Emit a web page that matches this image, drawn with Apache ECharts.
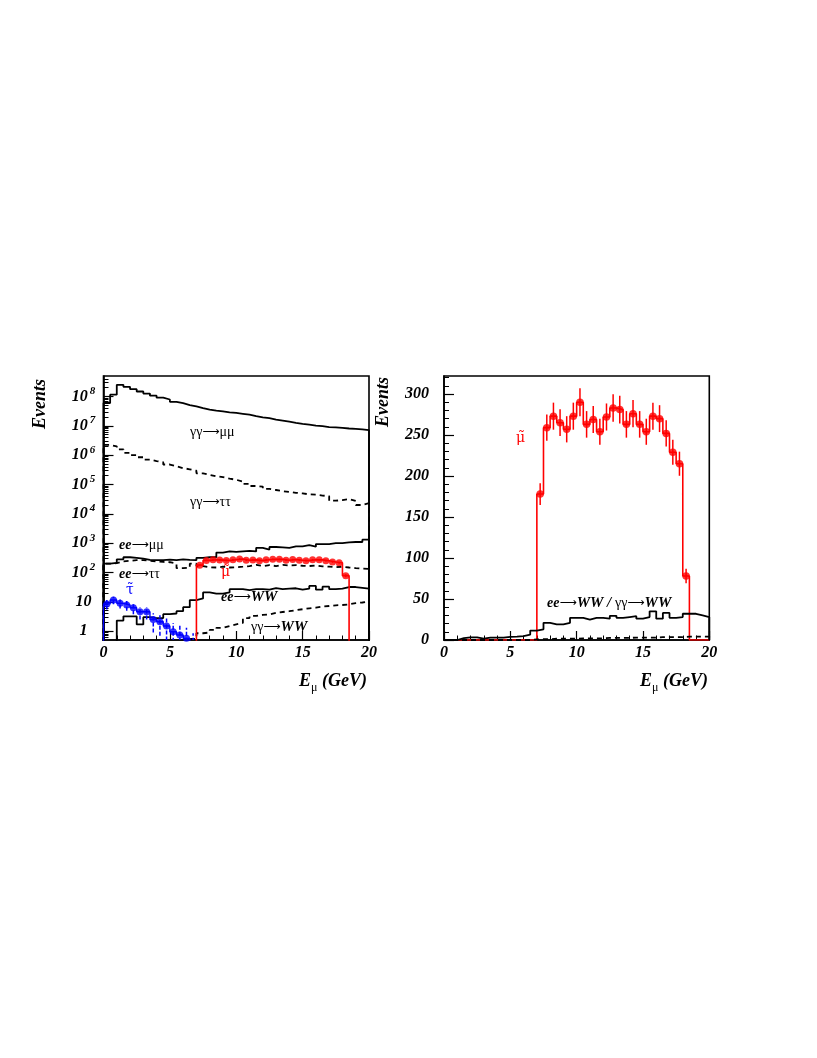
<!DOCTYPE html>
<html><head><meta charset="utf-8">
<script src="https://cdn.jsdelivr.net/npm/echarts@6/dist/echarts.min.js"></script>
<style>html,body{margin:0;padding:0;background:#fff}#c{width:817px;height:1058px}</style>
</head><body><div id="c"></div>
<script>
// ---------------- data (0.5 GeV bins, E from 0 to 20 GeV) ----------------
const binLow = [0,0.5,1,1.5,2,2.5,3,3.5,4,4.5,5,5.5,6,6.5,7,7.5,8,8.5,9,9.5,
                10,10.5,11,11.5,12,12.5,13,13.5,14,14.5,15,15.5,16,16.5,17,17.5,18,18.5,19,19.5];
const binWidth = 0.5;

// gamma gamma -> mu mu (solid, left)
const ggMuMu = [6.0e7,1.15e8,2.51e8,2.14e8,1.78e8,1.48e8,1.26e8,1.07e8,9.1e7,7.9e7,
                6.6e7,5.9e7,5.1e7,4.6e7,4.0e7,3.55e7,3.3e7,3.1e7,2.9e7,2.75e7,
                2.57e7,2.4e7,2.14e7,1.95e7,1.82e7,1.62e7,1.51e7,1.38e7,1.26e7,1.17e7,
                1.1e7,1.02e7,9.8e6,9.1e6,8.9e6,8.5e6,8.1e6,7.9e6,7.6e6,7.1e6];
// gamma gamma -> tau tau (dashed, left)
const ggTauTau = [2.24e6,2.0e6,1.58e6,1.2e6,1.0e6,8.5e5,7.1e5,6.3e5,5.75e5,4.8e5,
                  4.2e5,3.6e5,3.3e5,2.95e5,2.4e5,2.14e5,1.9e5,1.78e5,1.58e5,1.45e5,
                  1.26e5,1.05e5,8.9e4,8.5e4,7.1e4,6.5e4,5.9e4,5.6e4,5.2e4,5.0e4,
                  4.6e4,4.5e4,4.2e4,4.0e4,2.8e4,2.95e4,3.2e4,2.75e4,2.0e4,2.3e4];
// ee -> mu mu (solid, left)
const eeMuMu = [200,214,282,331,316,295,269,263,263,275,
                263,282,269,263,316,331,331,479,525,501,
                525,550,525,692,603,741,724,692,776,776,
                851,759,933,933,1000,1000,1072,1096,1096,1318];
// ee -> tau tau (dashed, left)
const eeTauTau = [200,209,240,251,263,263,251,240,229,224,
                  200,141,145,200,166,151,148,158,148,151,
                  158,166,182,166,178,166,182,174,178,170,
                  166,174,162,158,151,158,148,141,135,132];
// ee -> WW (solid, both panels)
const eeWW = [0,0,2.3,3.2,3.2,1.7,3.0,2.8,2.8,3.8,
              4.0,4.8,6.6,11.5,13,21,19,19,21,27,
              27,25,27,27,26,29.5,27,28,29,26,
              28,35,26,33,27,28,32,32,30,28];
// gamma gamma -> WW (dashed, left)
const ggWW = [0,0,0,0,0,0,0,0,0,0,
              0,0,0,0.55,0.85,0.9,1.1,1.3,1.5,1.7,
              1.9,2.8,3.3,3.6,3.7,4.2,4.5,4.8,5.2,5.6,
              6.0,6.3,6.9,7.2,7.6,7.8,8.2,9.0,9.5,10.2];
// gamma gamma -> WW (dashed, right panel)
const ggWWRight = [0,0,0,0,0,0,0,0,0,0,
                   0,0,0,0.8,1.0,1.0,1.5,1.5,1.5,1.5,
                   2,2,2,2,2.5,2.5,2.5,2.5,3,3,
                   3,3,3.5,3.5,3.5,3.5,4,4,4,4];
// smuon signal (red points)
const smuon = [0,0,0,0,0,0,0,0,0,0,
               0,0,0,0,178,259,273,265,257,273,
               290,263,269,254,272,283,281,263,276,263,
               254,273,270,252,229,215,78,0,0,0];
const smuonErr = [0,0,0,0,0,0,0,0,0,0,
                  0,0,0,0,13.3,16.1,16.5,16.3,16.0,16.5,
                  17.0,16.2,16.4,15.9,16.5,16.8,16.8,16.2,16.6,16.2,
                  15.9,16.5,16.4,15.9,15.1,14.7,8.8,0,0,0];
// stau signal (blue points)
const stau = [8.5,11.6,8.9,7.8,6.3,4.6,4.6,2.5,2.1,1.5,
              0.96,0.74,0.57,0.3,0,0,0,0,0,0,
              0,0,0,0,0,0,0,0,0,0,
              0,0,0,0,0,0,0,0,0,0];
const stauErr = [3.0,3.4,3.0,2.8,2.5,2.1,2.1,1.6,1.4,1.2,
                 0.95,0.85,0.75,0.55,0,0,0,0,0,0,
                 0,0,0,0,0,0,0,0,0,0,
                 0,0,0,0,0,0,0,0,0,0];

// axis ticks / labels
const xMajor = [0,5,10,15,20];
const logMajor = [1,10,100,1000,1e4,1e5,1e6,1e7,1e8];
const logMinor = [0.6,0.7,0.8,0.9,2,3,4,5,6,7,8,9,20,30,40,50,60,70,80,90,
                  200,300,400,500,600,700,800,900,2e3,3e3,4e3,5e3,6e3,7e3,8e3,9e3,
                  2e4,3e4,4e4,5e4,6e4,7e4,8e4,9e4,2e5,3e5,4e5,5e5,6e5,7e5,8e5,9e5,
                  2e6,3e6,4e6,5e6,6e6,7e6,8e6,9e6,2e7,3e7,4e7,5e7,6e7,7e7,8e7,9e7,2e8,3e8,4e8];
const linMajor = [0,50,100,150,200,250,300];
const linMinor = [10,20,30,40,60,70,80,90,110,120,130,140,160,170,180,190,
                  210,220,230,240,260,270,280,290,310,320];

// ---------------- chart ----------------
const SERIF = '"Liberation Serif", "DejaVu Serif", serif';
const DJ = '"DejaVu Serif", serif';
const LOG_FLOOR = 0.05;
const chart = echarts.init(document.getElementById('c'), null, {renderer: 'canvas', width: 817, height: 1058});

function stepData(vals, floor) {
  const pts = [[binLow[0], floor]];
  for (let i = 0; i < binLow.length; i++) pts.push([binLow[i], vals[i] > 0 ? vals[i] : floor]);
  const last = binLow.length - 1;
  const end = binLow[last] + binWidth;
  pts.push([end, vals[last] > 0 ? vals[last] : floor], [end, floor]);
  return pts;
}
function stepSeries(vals, g, floor, color, width, dashed, z) {
  return {type: 'line', step: 'end', xAxisIndex: g, yAxisIndex: g === 0 ? 0 : 2,
    data: stepData(vals, floor), symbol: 'none', showSymbol: false, clip: true, silent: true,
    lineStyle: {color: color, width: width, type: dashed ? [5, 4] : 'solid'}, z: z || 2};
}
function pointSeries(vals, g, color, size) {
  const d = [];
  for (let i = 0; i < binLow.length; i++) if (vals[i] > 0) d.push([binLow[i] + binWidth / 2, vals[i]]);
  return {type: 'scatter', xAxisIndex: g, yAxisIndex: g === 0 ? 0 : 2, data: d, symbol: 'circle',
    symbolSize: size, itemStyle: {color: color}, clip: true, silent: true, z: 5};
}
function errSeries(vals, errs, g, color, width, dash) {
  const d = [];
  for (let i = 0; i < binLow.length; i++) if (vals[i] > 0) d.push([binLow[i] + binWidth / 2, vals[i] - errs[i], vals[i] + errs[i]]);
  return {type: 'custom', xAxisIndex: g, yAxisIndex: g === 0 ? 0 : 2, data: d, clip: true, silent: true, z: 4,
    renderItem: function (params, api) {
      const x = api.value(0);
      let lo = api.value(1); const hi = api.value(2);
      if (g === 0 && lo < 0.01) lo = 0.01;
      const p1 = api.coord([x, lo]), p2 = api.coord([x, hi]);
      return {type: 'line', shape: {x1: p1[0], y1: p1[1], x2: p2[0], y2: p2[1]},
        style: {stroke: color, lineWidth: width, lineDash: dash || null}};
    }};
}

const labelFont = {fontFamily: SERIF, fontWeight: 'bold', fontStyle: 'italic', fontSize: 16, color: '#000'};
const frameColor = '#000';

function xAxisCfg(g) {
  return {gridIndex: g, type: 'value', min: 0, max: 20, interval: 5,
    axisLine: {show: true, onZero: false, lineStyle: {color: frameColor, width: 1.6}},
    axisTick: {show: true, inside: true, length: 9, lineStyle: {color: frameColor, width: 1.2}},
    minorTick: {show: true, splitNumber: 5, length: 4.5, lineStyle: {color: frameColor, width: 1}},
    axisLabel: Object.assign({margin: 5, customValues: xMajor}, labelFont),
    splitLine: {show: false}};
}

const option = {
  animation: false,
  backgroundColor: '#fff',
  grid: [
    {left: 103.5, top: 376, width: 265.5, height: 264, show: true, borderColor: frameColor, borderWidth: 1.6, backgroundColor: 'transparent'},
    {left: 444, top: 376, width: 265.3, height: 264, show: true, borderColor: frameColor, borderWidth: 1.6, backgroundColor: 'transparent'}
  ],
  xAxis: [xAxisCfg(0), xAxisCfg(1)],
  yAxis: [
    {gridIndex: 0, type: 'log', logBase: 10, min: 0.5, max: 5e8, position: 'left',
      axisLine: {show: true, onZero: false, lineStyle: {color: frameColor, width: 1.6}},
      axisTick: {show: true, inside: true, length: 10, customValues: logMajor, lineStyle: {color: frameColor, width: 1.2}},
      minorTick: {show: false},
      axisLabel: Object.assign({}, labelFont, {margin: 20, align: 'center', lineHeight: 22, customValues: logMajor,
        formatter: function (v) {
          const n = Math.round(Math.log10(v));
          if (n === 0) return '{b|1}';
          if (n === 1) return '{b|10}';
          return '{b|10}{s|' + n + '}';
        },
        rich: {
          b: {fontFamily: SERIF, fontWeight: 'bold', fontStyle: 'italic', fontSize: 16, lineHeight: 22, color: '#000'},
          s: {fontFamily: SERIF, fontWeight: 'bold', fontStyle: 'italic', fontSize: 11, lineHeight: 11, verticalAlign: 'top', color: '#000', padding: [0, 0, 0, 2]}
        }}),
      splitLine: {show: false}},
    {gridIndex: 0, type: 'log', logBase: 10, min: 0.5, max: 5e8, position: 'left',
      axisLine: {show: false},
      axisTick: {show: true, inside: true, length: 5, customValues: logMinor, lineStyle: {color: frameColor, width: 1}},
      axisLabel: {show: false}, minorTick: {show: false}, splitLine: {show: false}},
    {gridIndex: 1, type: 'value', min: 0, max: 322, position: 'left',
      axisLine: {show: true, onZero: false, lineStyle: {color: frameColor, width: 1.6}},
      axisTick: {show: true, inside: true, length: 10, customValues: linMajor, lineStyle: {color: frameColor, width: 1.2}},
      minorTick: {show: false},
      axisLabel: Object.assign({margin: 15, customValues: linMajor}, labelFont),
      splitLine: {show: false}},
    {gridIndex: 1, type: 'value', min: 0, max: 322, position: 'left',
      axisLine: {show: false},
      axisTick: {show: true, inside: true, length: 5, customValues: linMinor, lineStyle: {color: frameColor, width: 1}},
      axisLabel: {show: false}, minorTick: {show: false}, splitLine: {show: false}}
  ],
  series: [
    // left panel (log)
    stepSeries(ggMuMu, 0, LOG_FLOOR, '#000', 1.8, false),
    stepSeries(ggTauTau, 0, LOG_FLOOR, '#000', 1.8, true),
    stepSeries(eeMuMu, 0, LOG_FLOOR, '#000', 1.8, false),
    stepSeries(eeTauTau, 0, LOG_FLOOR, '#000', 1.8, true),
    stepSeries(eeWW, 0, LOG_FLOOR, '#000', 1.8, false),
    stepSeries(ggWW, 0, LOG_FLOOR, '#000', 1.8, true),
    stepSeries(smuon, 0, LOG_FLOOR, '#ff0000', 1.6, false, 3),
    stepSeries(stau, 0, LOG_FLOOR, '#0000ff', 1.4, false, 3),
    errSeries(smuon, smuonErr, 0, '#ff0000', 1.5),
    errSeries(stau, stauErr, 0, '#0000ff', 1.5, [4, 2]),
    pointSeries(smuon, 0, '#ff0000', 7),
    pointSeries(stau, 0, '#0000ff', 7),
    // right panel (linear)
    stepSeries(smuon, 1, 0, '#ff0000', 1.6, false, 2),
    stepSeries(ggWWRight, 1, 0, '#000', 1.8, true, 3),
    stepSeries(eeWW, 1, 0, '#000', 1.8, false, 3),
    errSeries(smuon, smuonErr, 1, '#ff0000', 1.5),
    pointSeries(smuon, 1, '#ff0000', 7.5)
  ],
  graphic: (function () {
    const n = {fontFamily: SERIF, fontSize: 14, fill: '#000'};
    const a = {fontFamily: '"DejaVu Sans", sans-serif', fontSize: 12, fill: '#000'};
    const bi = {fontFamily: SERIF, fontSize: 14, fontWeight: 'bold', fontStyle: 'italic', fill: '#000'};
    const big = {fontFamily: SERIF, fontSize: 15, fontWeight: 'bold', fontStyle: 'italic', fill: '#000'};
    function t(x, y, text, rich, extra) {
      return Object.assign({type: 'text', x: x, y: y, silent: true, z: 100,
        style: {text: text, rich: rich, verticalAlign: 'middle', align: 'left'}}, extra || {});
    }
    const titleRich = {
      b: {fontFamily: SERIF, fontSize: 18, fontWeight: 'bold', fontStyle: 'italic', fill: '#000', lineHeight: 26},
      s: {fontFamily: SERIF, fontSize: 12, fill: '#000', lineHeight: 12, verticalAlign: 'bottom'}
    };
    const evRich = {b: {fontFamily: SERIF, fontSize: 18, fontWeight: 'bold', fontStyle: 'italic', fill: '#000'}};
    const red = {r: {fontFamily: DJ, fontSize: 14, fill: '#ff0000'}};
    const blue = {u: {fontFamily: DJ, fontSize: 14, fill: '#0000ff'}};
    return [
      t(190, 432, '{n|γγ}{a|⟶}{n|μμ}', {n: n, a: a}),
      t(190, 502, '{n|γγ}{a|⟶}{n|ττ}', {n: n, a: a}),
      t(119, 545, '{b|ee}{a|⟶}{n|μμ}', {b: bi, n: n, a: a}),
      t(119, 574, '{b|ee}{a|⟶}{n|ττ}', {b: bi, n: n, a: a}),
      t(221, 597, '{b|ee}{a|⟶}{w|WW}', {b: bi, a: a, w: big}),
      t(251, 627, '{n|γγ}{a|⟶}{w|WW}', {n: n, a: a, w: big}),
      t(221, 572, '{r|μ̃}', red),
      t(126, 590, '{u|τ̃}', blue),
      t(516, 438, '{r|μ̃}', red),
      t(547, 603, '{b|ee}{a|⟶}{w|WW / }{n|γγ}{a|⟶}{w|WW}', {b: bi, n: n, a: a, w: big}),
      // axis titles
      t(367, 681, '', titleRich, {style: {text: '{b|E}{s|μ}{b| (GeV)}', rich: titleRich, align: 'right', verticalAlign: 'middle'}}),
      t(708, 681, '', titleRich, {style: {text: '{b|E}{s|μ}{b| (GeV)}', rich: titleRich, align: 'right', verticalAlign: 'middle'}}),
      {type: 'text', x: 40, y: 379, rotation: Math.PI / 2, silent: true, z: 100,
        style: {text: '{b|Events}', rich: evRich, align: 'right', verticalAlign: 'middle'}},
      {type: 'text', x: 383, y: 377, rotation: Math.PI / 2, silent: true, z: 100,
        style: {text: '{b|Events}', rich: evRich, align: 'right', verticalAlign: 'middle'}}
    ];
  })()
};
chart.setOption(option);
</script>
</body></html>
